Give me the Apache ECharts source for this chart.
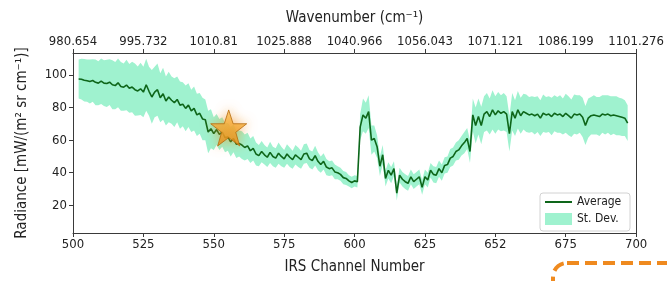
<!DOCTYPE html>
<html><head><meta charset="utf-8">
<script src="https://cdn.jsdelivr.net/npm/echarts@6/dist/echarts.min.js"></script>
<style>html,body{margin:0;padding:0;background:#fff}#c{width:667px;height:281px}</style>
</head><body><div id="c"></div>
<script>
const firstChannel = 502;
const average = [
  97.5, 97.4, 96.8, 96.5, 96.0, 96.6, 95.5, 95.0, 96.2, 95.0,
  94.8, 95.6, 94.0, 93.5, 95.2, 93.0, 92.5, 93.8, 91.8, 92.6,
  91.0, 90.2, 91.5, 89.5, 94.0, 90.0, 86.5, 89.5, 91.0, 86.0,
  88.5, 84.0, 86.5, 84.5, 83.0, 85.0, 81.5, 82.0, 79.5, 81.5,
  78.0, 79.5, 75.5, 76.5, 73.0, 72.5, 65.0, 67.0, 64.0, 66.5,
  63.5, 65.0, 61.5, 62.0, 59.0, 61.0, 57.5, 58.0, 57.0, 55.5,
  56.5, 53.5, 55.0, 51.5, 50.5, 53.0, 51.0, 49.5, 52.5, 50.0,
  49.0, 52.0, 50.0, 48.5, 51.5, 49.5, 48.0, 51.0, 49.5, 48.0,
  51.5, 52.0, 48.5, 47.5, 50.5, 47.0, 45.0, 47.0, 43.5, 42.5,
  43.0, 40.5, 40.0, 39.0, 37.0, 36.5, 35.0, 34.0, 35.0, 34.5,
  68.0, 75.5, 73.5, 77.5, 60.0, 61.0, 56.0, 44.0, 51.0, 36.5,
  41.5, 38.5, 42.5, 27.5, 38.5, 36.0, 34.5, 33.5, 37.5, 34.5,
  36.0, 37.5, 31.0, 37.5, 35.5, 41.5, 39.0, 38.5, 42.5, 40.0,
  44.5, 45.0, 49.0, 50.0, 53.0, 54.0, 56.5, 58.5, 61.0, 53.0,
  75.5, 69.0, 74.5, 69.0, 76.0, 77.5, 74.5, 78.6, 75.5, 78.0,
  76.5, 77.5, 76.0, 64.0, 77.5, 73.5, 78.6, 75.0, 77.5, 76.5,
  75.5, 76.0, 75.0, 76.0, 73.5, 76.5, 75.5, 76.0, 74.5, 76.5,
  75.5, 76.0, 74.5, 76.5, 75.0, 73.5, 76.0, 75.5, 76.0, 74.0,
  69.0, 73.5, 75.0, 75.5, 75.0, 74.5, 76.0, 75.5, 76.0, 75.0,
  75.5, 75.0, 74.5, 74.0, 73.5, 70.5
];
const stDev = [
  12, 12.5, 13, 13, 13.5, 13, 14, 13.5, 14, 14,
  14.5, 14, 15, 14.5, 15, 15, 14.5, 15.5, 15, 15.5,
  16, 15, 16, 15.5, 16, 15, 16.5, 15.5, 16, 15,
  16, 15, 15.5, 14.5, 15, 14, 14.5, 13.5, 14, 13.5,
  13, 13.5, 13, 12.5, 13, 12.5, 13, 12, 10, 9.5,
  9.5, 9, 9, 8.5, 9, 8.5, 8.5, 8, 8.5, 8,
  8, 7.5, 7.5, 7, 6.5, 6.5, 6, 6, 6.5, 6,
  6, 6.5, 6, 5.5, 6, 6, 5.5, 6, 6, 5.5,
  6, 6, 5.5, 5.5, 6, 5.5, 5, 5, 5, 4.5,
  4.5, 4.5, 4, 4, 4, 4, 3.5, 3.5, 3.5, 3.5,
  8, 10, 9.5, 10, 9, 8, 7, 6, 6, 5,
  5, 5, 4.5, 4.5, 4.5, 4.5, 4.5, 4.5, 4.5, 4.5,
  4.5, 4.5, 4.5, 4.5, 4.5, 4.5, 5, 5, 5, 5,
  5, 5, 5.5, 5.5, 5.5, 6, 6, 6.5, 6.5, 7,
  10, 11, 11, 11.5, 11, 11.5, 11, 12, 11.5, 11.5,
  11, 11.5, 11, 11, 11.5, 11, 11.5, 11, 11, 11.5,
  11, 11, 11.5, 11, 11, 11.5, 11, 11, 11.5, 11,
  11, 11.5, 11, 12, 12, 11.5, 12, 12, 11.5, 12,
  12, 12, 11.5, 12, 11.5, 12, 11.5, 12, 11.5, 12,
  11.5, 12, 11.5, 11.5, 11, 11
];
const channelTickLabels = ['500','525','550','575','600','625','652','675','700'];
const wavenumberTickLabels = ['980.654','995.732','1010.81','1025.888','1040.966','1056.043','1071.121','1086.199','1101.276'];
const yTicks = [20, 40, 60, 80, 100];
const starPoint = [555.3, 67.5];

const FONT = "'DejaVu Sans Condensed', 'DejaVu Sans', sans-serif";
const LINE = '#0e661a';
const BAND = '#9ff2cf';
const AX = '#3a3a3a';

const avgData = average.map((v, i) => [firstChannel + i, v]);
const bandRows = average.map((v, i) => [firstChannel + i, v - stDev[i], v + stDev[i]]);

const labelFromList = list => v => {
  const k = Math.round((v - 500) / 25);
  return list[k] !== undefined ? list[k] : '';
};

const chart = echarts.init(document.getElementById('c'), null, {renderer: 'canvas'});
chart.setOption({
  animation: false,
  backgroundColor: '#fff',
  textStyle: {fontFamily: FONT},
  grid: {left: 73, right: 30, top: 53, bottom: 48, containLabel: false},
  xAxis: [{
    type: 'value', position: 'bottom', min: 500, max: 700, interval: 25,
    name: 'IRS Channel Number', nameLocation: 'middle', nameGap: 27,
    nameTextStyle: {fontSize: 15, color: '#222', fontFamily: FONT},
    axisLine: {show: true, lineStyle: {color: AX, width: 1}},
    axisTick: {show: true, length: 4, lineStyle: {color: AX}},
    axisLabel: {fontSize: 13, color: '#222', margin: 5, fontFamily: FONT, formatter: labelFromList(channelTickLabels)},
    splitLine: {show: false}
  }, {
    type: 'value', position: 'top', min: 500, max: 700, interval: 25,
    name: 'Wavenumber (cm⁻¹)', nameLocation: 'middle', nameGap: 27,
    nameTextStyle: {fontSize: 15, color: '#222', fontFamily: FONT},
    axisLine: {show: true, lineStyle: {color: AX, width: 1}},
    axisTick: {show: true, length: 4, lineStyle: {color: AX}},
    axisLabel: {fontSize: 13, color: '#222', margin: 5, fontFamily: FONT, formatter: labelFromList(wavenumberTickLabels)},
    splitLine: {show: false}
  }],
  yAxis: [{
    type: 'value', min: 3, max: 113.5,
    name: 'Radiance [mW/(m² sr cm⁻¹)]', nameLocation: 'middle', nameGap: 43, nameRotate: 90,
    nameTextStyle: {fontSize: 15, color: '#222', fontFamily: FONT},
    axisLine: {show: true, lineStyle: {color: AX, width: 1}},
    axisTick: {show: true, length: 4, lineStyle: {color: AX}, customValues: yTicks},
    axisLabel: {fontSize: 13, color: '#222', margin: 6, fontFamily: FONT, customValues: yTicks},
    splitLine: {show: false}
  }, {
    type: 'value', position: 'right', min: 3, max: 113.5,
    axisLine: {show: true, lineStyle: {color: AX, width: 1}},
    axisTick: {show: false}, axisLabel: {show: false}, splitLine: {show: false}
  }],
  legend: [{
    orient: 'vertical', left: 545, top: 196, padding: 0,
    itemWidth: 27, itemHeight: 2, icon: 'rect',
    textStyle: {fontSize: 12, color: '#222', fontFamily: FONT},
    data: [{name: 'Average', itemStyle: {color: LINE}}]
  }, {
    orient: 'vertical', left: 545, top: 213, padding: 0,
    itemWidth: 27, itemHeight: 12, icon: 'rect',
    textStyle: {fontSize: 12, color: '#222', fontFamily: FONT},
    data: [{name: 'St. Dev.', itemStyle: {color: BAND, opacity: 1, borderWidth: 0}}]
  }],
  series: [{
    name: 'St. Dev.', type: 'custom', data: bandRows, silent: true, z: 1,
    encode: {x: 0, y: [1, 2]}, itemStyle: {color: BAND},
    renderItem: (params, api) => {
      if (params.dataIndex !== 0) return null;
      const pts = [];
      for (let i = 0; i < bandRows.length; i++) pts.push(api.coord([bandRows[i][0], bandRows[i][2]]));
      for (let i = bandRows.length - 1; i >= 0; i--) pts.push(api.coord([bandRows[i][0], bandRows[i][1]]));
      return {type: 'polygon', shape: {points: pts}, style: {fill: BAND, stroke: null}};
    }
  }, {
    name: 'Average', type: 'line', data: avgData, symbol: 'none',
    lineStyle: {color: LINE, width: 1.6}, itemStyle: {color: LINE}, z: 3
  }, {
    name: 'star', type: 'scatter', data: [starPoint], silent: true, z: 10,
    symbol: 'path://M50,0 L61.8,35.3 L98.1,35.3 L68.8,57.1 L79.4,91.9 L50,70.5 L20.6,91.9 L31.2,57.1 L1.9,35.3 L38.2,35.3 Z',
    symbolSize: [36, 36],
    itemStyle: {
      color: new echarts.graphic.LinearGradient(0, 0, 0, 1, [
        {offset: 0, color: '#ffc75a'}, {offset: 1, color: '#e8890f'}
      ]),
      borderColor: '#b56a0c', borderWidth: 1,
      shadowBlur: 12, shadowColor: 'rgba(240,140,20,0.75)'
    }
  }],
  graphic: [{
    type: 'rect', silent: true, z: 3,
    shape: {x: 540, y: 193, width: 90, height: 38, r: 3},
    style: {fill: 'rgba(255,255,255,0.85)', stroke: '#d2d2d2', lineWidth: 1}
  }, {
    type: 'rect', silent: true, z: 20,
    shape: {x: 553, y: 263, width: 140, height: 60, r: 14},
    style: {fill: 'none', stroke: '#ef8a1f', lineWidth: 4, lineDash: [12, 6]}
  }]
});
</script></body></html>
